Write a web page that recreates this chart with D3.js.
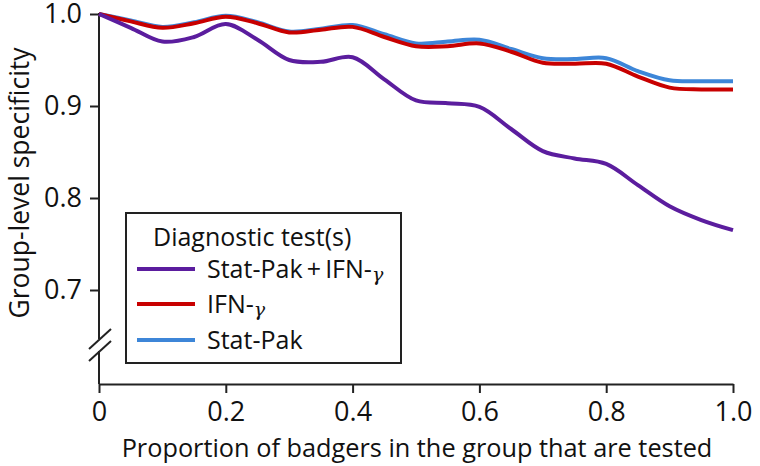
<!DOCTYPE html>
<html>
<head>
<meta charset="utf-8">
<script src="https://cdn.jsdelivr.net/npm/d3@7"></script>
<style>
  html, body { margin: 0; padding: 0; background: #fff; }
  svg text { font-family: "Open Sans", Lato, sans-serif; fill: #111; }
</style>
</head>
<body>
<svg id="chart" width="760" height="466"></svg>
<script>
// ---- data ----
const proportion = [0, 0.05, 0.1, 0.15, 0.2, 0.25, 0.3, 0.35, 0.4, 0.45, 0.5,
                    0.55, 0.6, 0.65, 0.7, 0.75, 0.8, 0.85, 0.9, 0.95, 1.0];
const statPakIfn = [1.0, 0.985, 0.970, 0.975, 0.989, 0.972, 0.950, 0.948, 0.953, 0.929, 0.906,
                    0.903, 0.899, 0.875, 0.851, 0.843, 0.837, 0.814, 0.791, 0.776, 0.765];
const ifn        = [1.0, 0.992, 0.985, 0.990, 0.997, 0.990, 0.980, 0.983, 0.986, 0.975, 0.965,
                    0.965, 0.968, 0.959, 0.947, 0.946, 0.946, 0.932, 0.920, 0.918, 0.918];
const statPak    = [1.0, 0.993, 0.986, 0.991, 0.998, 0.991, 0.981, 0.984, 0.988, 0.978, 0.968,
                    0.970, 0.972, 0.962, 0.952, 0.951, 0.952, 0.938, 0.928, 0.927, 0.927];
const seriesNames = ["Stat-Pak\u2009+\u2009IFN-", "IFN-", "Stat-Pak"];
const xTickValues = [0, 0.2, 0.4, 0.6, 0.8, 1.0];
const xTickLabels = ["0", "0.2", "0.4", "0.6", "0.8", "1.0"];
const yTickValues = [0.7, 0.8, 0.9, 1.0];
const yTickLabels = ["0.7", "0.8", "0.9", "1.0"];

// ---- layout ----
const svg = d3.select("#chart");
const x0 = 99, x1 = 733, yTop = 14, yAxisBase = 384;
const x = d3.scaleLinear().domain([0, 1]).range([x0, x1]);
const y = d3.scaleLinear().domain([0.7, 1.0]).range([290, yTop]);

const colors = { sp: "#5b1d9e", ifn: "#c80000", stat: "#3d86d8" };

// x axis
const xAxis = d3.axisBottom(x)
  .tickValues(xTickValues)
  .tickFormat((d, i) => xTickLabels[i])
  .tickSize(9).tickSizeOuter(0).tickPadding(9);
const gx = svg.append("g").attr("transform", `translate(0,${yAxisBase})`).call(xAxis);
gx.select(".domain").attr("stroke", "#222").attr("stroke-width", 2);
gx.selectAll(".tick line").attr("stroke", "#222").attr("stroke-width", 2);
gx.selectAll(".tick text").style("font-size", "27px").attr("fill", "#111");

// y axis
const yAxis = d3.axisLeft(y)
  .tickValues(yTickValues)
  .tickFormat((d, i) => yTickLabels[i])
  .tickSize(9).tickSizeOuter(0).tickPadding(8);
const gy = svg.append("g").attr("transform", `translate(${x0},0)`).call(yAxis);
gy.select(".domain").remove();
gy.selectAll(".tick line").attr("stroke", "#222").attr("stroke-width", 2);
gy.selectAll(".tick text").style("font-size", "27px").attr("fill", "#111");

// y axis line with break
function seg(xa, ya, xb, yb) {
  return svg.append("line").attr("x1", xa).attr("y1", ya).attr("x2", xb).attr("y2", yb)
    .attr("stroke", "#222").attr("stroke-width", 2);
}
seg(x0, yTop - 1, x0, 339);
seg(x0, 351, x0, yAxisBase);
seg(89, 349, 111, 329);
seg(89, 361, 111, 341);

// lines
const line = d3.line()
  .x((d, i) => x(proportion[i]))
  .y(d => y(d))
  .curve(d3.curveCatmullRom.alpha(0.5));

svg.append("path").datum(statPak).attr("d", line)
  .attr("fill", "none").attr("stroke", colors.stat).attr("stroke-width", 4);
svg.append("path").datum(ifn).attr("d", line)
  .attr("fill", "none").attr("stroke", colors.ifn).attr("stroke-width", 4);
svg.append("path").datum(statPakIfn).attr("d", line)
  .attr("fill", "none").attr("stroke", colors.sp).attr("stroke-width", 4);

// axis titles
svg.append("text")
  .attr("x", 417).attr("y", 457)
  .attr("text-anchor", "middle")
  .style("font-size", "25.3px")
  .text("Proportion of badgers in the group that are tested");

svg.append("text")
  .attr("transform", "translate(29,183) rotate(-90)")
  .attr("text-anchor", "middle")
  .style("font-size", "26.5px")
  .text("Group-level specificity");

// legend
const lg = svg.append("g");
lg.append("rect").attr("x", 126).attr("y", 213).attr("width", 275).attr("height", 150)
  .attr("fill", "#fff").attr("stroke", "#222").attr("stroke-width", 2);
lg.append("text").attr("x", 153).attr("y", 246).style("font-size", "25px").text("Diagnostic test(s)");
const legendItems = [
  { name: seriesNames[0], color: colors.sp, gamma: true, yy: 269 },
  { name: seriesNames[1], color: colors.ifn, gamma: true, yy: 304 },
  { name: seriesNames[2], color: colors.stat, gamma: false, yy: 340 }
];
legendItems.forEach(it => {
  lg.append("line").attr("x1", 137).attr("x2", 195).attr("y1", it.yy).attr("y2", it.yy)
    .attr("stroke", it.color).attr("stroke-width", 4);
  const t = lg.append("text").attr("x", 207).attr("y", it.yy + 9).style("font-size", "25px");
  t.append("tspan").text(it.name);
  if (it.gamma) {
    t.append("tspan").attr("dy", 3).style("font-style", "italic")
      .style("font-family", "'DejaVu Serif', serif").style("font-size", "19px").text("γ");
  }
});
</script>
</body>
</html>
